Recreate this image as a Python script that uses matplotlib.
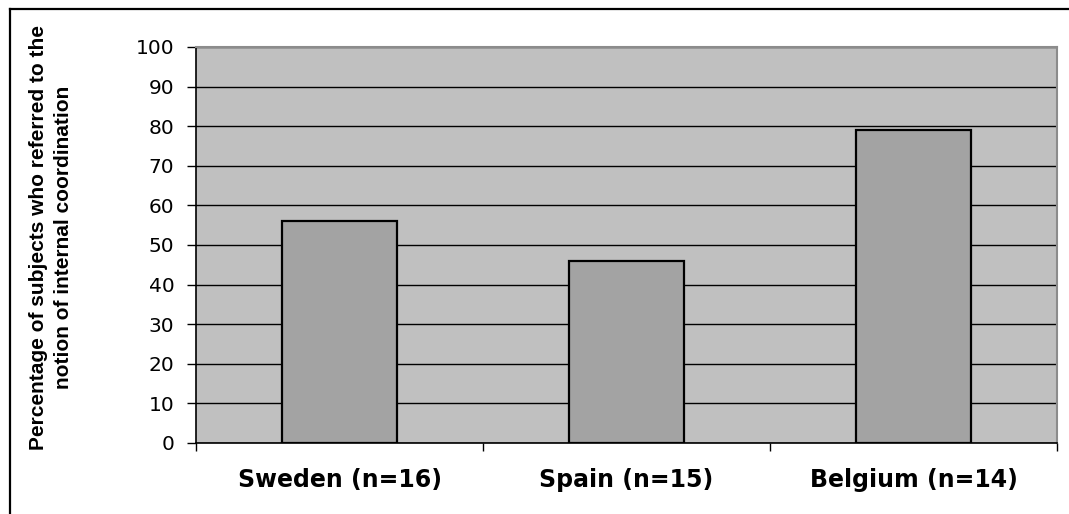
import numpy as np
import matplotlib.pyplot as plt
from matplotlib.lines import Line2D

plt.rcParams['font.family'] = ['Liberation Sans', 'DejaVu Sans']

# Data
countries = ['Sweden (n=16)', 'Spain (n=15)', 'Belgium (n=14)']
percentages = [56, 46, 79]
y_ticks = list(range(0, 101, 10))

W, H = 1069, 514
fig = plt.figure(figsize=(W / 100, H / 100), dpi=100)
ax = fig.add_axes([196 / W, (H - 443) / H, (1057 - 196) / W, (443 - 47) / H])

ax.set_facecolor('#c0c0c0')
x = np.arange(len(countries))
ax.bar(x, percentages, width=0.404, color='#a3a3a3', edgecolor='black',
       linewidth=1.6, zorder=3)

ax.set_xlim(-0.5, len(countries) - 0.5)
ax.set_ylim(0, 100)

# gridlines behind the bars
ax.set_yticks(y_ticks)
ax.yaxis.grid(True, color='black', linewidth=1.0, zorder=1)
ax.set_axisbelow(True)

# spines: black axes on left/bottom, gray frame on top/right
for side in ('top', 'right'):
    ax.spines[side].set_color('#8c8c8c')
    ax.spines[side].set_linewidth(1.5)
for side in ('left', 'bottom'):
    ax.spines[side].set_color('black')
    ax.spines[side].set_linewidth(1.2)

# y tick labels
ax.tick_params(axis='y', direction='out', length=6.5, width=1.0, pad=9,
               labelsize=14.5, labelfontfamily='DejaVu Sans')

# category labels centred, tick marks at the category boundaries
ax.set_xticks(x)
ax.set_xticklabels(countries, fontsize=17, fontweight='bold',
                   fontfamily='DejaVu Sans')
ax.tick_params(axis='x', which='major', length=0, pad=18)
ax.set_xticks(np.arange(-0.5, len(countries)), minor=True)
ax.tick_params(axis='x', which='minor', direction='out', length=5.5,
               width=1.0)

# two-line y axis title
fig.text(39 / W, 1 - 237 / H, 'Percentage of subjects who referred to the',
         rotation=90, ha='center', va='center', fontsize=15,
         fontweight='bold', fontfamily='Liberation Sans')
fig.text(64 / W, 1 - 237 / H, 'notion of internal coordination',
         rotation=90, ha='center', va='center', fontsize=15,
         fontweight='bold', fontfamily='Liberation Sans')

# outer frame (left and top edges)
fig.add_artist(Line2D([9.5 / W, 9.5 / W], [0, 1 - 8.5 / H],
                      transform=fig.transFigure, color='black', linewidth=1.6))
fig.add_artist(Line2D([9.5 / W, 1], [1 - 8.5 / H, 1 - 8.5 / H],
                      transform=fig.transFigure, color='black', linewidth=1.6))

fig.savefig('out.png', dpi=100)
